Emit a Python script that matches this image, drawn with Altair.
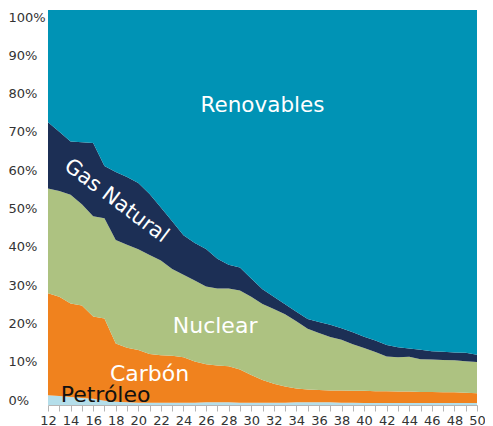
import altair as alt
import pandas as pd

years = [12, 13, 14, 15, 16, 17, 18, 19, 20, 21, 22, 23, 24, 25, 26, 27, 28, 29, 30,
         31, 32, 33, 34, 35, 36, 37, 38, 39, 40, 41, 42, 43, 44, 45, 46, 47, 48, 49, 50]
petroleo = [2.5, 2.3, 2.0, 1.8, 1.6, 1.1, 0.8, 0.7, 0.6, 0.6, 0.6, 0.6, 0.6, 0.6, 0.7, 0.7, 0.7, 0.6, 0.6,
            0.6, 0.6, 0.6, 0.7, 0.7, 0.7, 0.7, 0.6, 0.6, 0.5, 0.5, 0.5, 0.5, 0.5, 0.5, 0.5, 0.5, 0.5, 0.5, 0.5]
carbon = [25.8, 25.1, 23.7, 23.4, 20.8, 20.8, 14.8, 13.8, 13.3, 12.3, 12.0, 11.9, 11.5, 10.4, 9.6, 9.3, 9.1, 8.4, 7.0,
          5.7, 4.8, 4.1, 3.5, 3.2, 3.1, 3.0, 3.1, 3.0, 3.1, 3.0, 3.0, 2.9, 2.9, 2.8, 2.8, 2.7, 2.7, 2.6, 2.5]
nuclear = [26.5, 26.8, 27.5, 25.6, 25.4, 25.4, 26.2, 26.1, 25.5, 25.1, 24.0, 21.9, 20.9, 20.5, 19.7, 19.5, 19.7, 20.0, 19.8,
           19.3, 18.9, 18.3, 17.0, 15.4, 14.4, 13.5, 12.8, 11.8, 10.8, 9.9, 8.8, 8.7, 8.8, 8.3, 8.2, 8.2, 8.1, 8.0, 7.9]
gas = [16.8, 15.0, 13.5, 15.7, 18.5, 13.2, 17.2, 17.1, 16.8, 15.4, 13.4, 12.1, 10.0, 9.5, 9.5, 7.5, 6.0, 5.8, 4.6,
       3.7, 3.1, 2.5, 2.4, 2.5, 2.8, 3.1, 2.9, 3.0, 2.9, 2.9, 2.9, 2.5, 2.1, 2.4, 2.1, 2.1, 2.0, 2.1, 1.8]
renovables = [28.4, 30.8, 33.3, 33.5, 33.7, 39.5, 41.0, 42.3, 43.8, 46.6, 50.0, 53.5, 57.0, 59.0, 60.5, 63.0, 64.5, 65.2, 68.0,
              70.7, 72.6, 74.5, 76.4, 78.2, 79.0, 79.7, 80.6, 81.6, 82.7, 83.7, 84.8, 85.4, 85.7, 86.0, 86.4, 86.5, 86.7, 86.8, 87.3]

series_names = ["Petróleo", "Carbón", "Nuclear", "Gas Natural", "Renovables"]
series_colors = ["#B4DEEA", "#F0821E", "#ADC281", "#1C2F55", "#0093B5"]
series_values = [petroleo, carbon, nuclear, gas, renovables]

y_ticks = [0, 0.1, 0.2, 0.3, 0.4, 0.5, 0.6, 0.7, 0.8, 0.9, 1.0]

label_text = ["Renovables", "Nuclear", "Carbón", "Petróleo"]
label_year = [31.0, 26.8, 21.0, 17.1]
label_share = [0.757, 0.200, 0.078, 0.025]
label_color = ["#FFFFFF", "#FFFFFF", "#FFFFFF", "#111111"]
label_size = [21.5, 22, 22, 22]

gas_label = ["Gas Natural"]
gas_year = [18.05]
gas_share = [0.516]

rows = []
for order, (name, vals) in enumerate(zip(series_names, series_values)):
    for yr, v in zip(years, vals):
        rows.append({"year": yr, "share": v, "serie": name, "ord": order})
df = pd.DataFrame(rows)

labels_df = pd.DataFrame({"text": label_text, "year": label_year, "share": label_share,
                          "c": label_color, "s": label_size})
gas_df = pd.DataFrame({"text": gas_label, "year": gas_year, "share": gas_share})
ticks_df = pd.DataFrame({"v": y_ticks})

FONT = "DejaVu Sans"

x_scale = alt.Scale(domain=[12, 50], nice=False, zero=False)
x_axis = alt.Axis(
    values=years,
    labelExpr="datum.value % 2 == 0 ? datum.label : ''",
    title=None,
    grid=False,
    tickSize=6,
    tickColor="#b5b5b5",
    domainColor="#b5b5b5",
    labelFont=FONT,
    labelFontSize=13,
    labelColor="#333333",
    labelPadding=3,
    labelFlush=False,
    labelOverlap=False,
)
y_scale = alt.Scale(domain=[0, 1], nice=False)

area = alt.Chart(df).mark_area(interpolate="linear").encode(
    x=alt.X("year:Q", scale=x_scale, axis=x_axis),
    y=alt.Y("share:Q", stack="normalize", scale=y_scale, axis=None),
    color=alt.Color("serie:N", scale=alt.Scale(domain=series_names, range=series_colors), legend=None),
    order=alt.Order("ord:Q", sort="ascending"),
)

axis_layer = alt.Chart(ticks_df).mark_point(opacity=0).encode(
    y=alt.Y("v:Q", scale=alt.Scale(domain=[-0.01305, 1.0183], nice=False, zero=False),
            axis=alt.Axis(values=y_ticks, format=".0%", orient="left", title=None, grid=False,
                          ticks=False, tickSize=0, domain=False, labelAlign="left",
                          labelPadding=40, labelFont=FONT, labelFontSize=13,
                          labelColor="#333333")),
)

texts = alt.Chart(labels_df).mark_text(font=FONT, baseline="middle", align="center").encode(
    x=alt.X("year:Q", scale=x_scale, axis=x_axis),
    y=alt.Y("share:Q", scale=y_scale, axis=None),
    text="text:N",
    color=alt.Color("c:N", scale=None),
    size=alt.Size("s:Q", scale=None),
)

gas_text = alt.Chart(gas_df).mark_text(font=FONT, baseline="middle", align="center",
                                       angle=37, fontSize=21, color="#FFFFFF").encode(
    x=alt.X("year:Q", scale=x_scale, axis=x_axis),
    y=alt.Y("share:Q", scale=y_scale, axis=None),
    text="text:N",
)

chart = alt.layer(area, axis_layer, texts, gas_text).resolve_scale(
    y="independent"
).properties(
    width=429,
    height=395,
    autosize=alt.AutoSizeParams(type="none"),
    padding={"left": 40, "top": 2, "right": 8, "bottom": 21},
).configure_view(stroke=None)

chart.save("out.html", embed_options={"renderer": "svg", "actions": False})
